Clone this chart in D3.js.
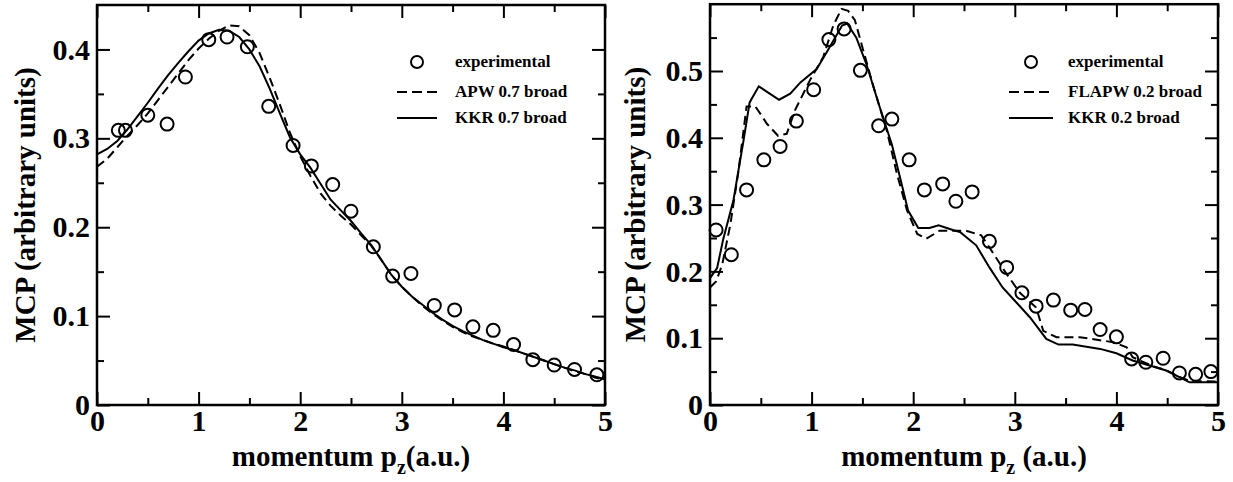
<!DOCTYPE html>
<html>
<head>
<meta charset="utf-8">
<script src="https://cdn.jsdelivr.net/npm/d3@7"></script>
<style>
  html, body { margin: 0; padding: 0; background: #fff; }
  svg { display: block; }
  text { font-family: "Liberation Serif", "Times New Roman", serif; font-weight: bold; fill: #000; }
</style>
</head>
<body>
<svg id="chart" width="1233" height="482"></svg>
<script>
// ---------------- DATA ----------------
// Left panel: experimental points
const leftExpX = [0.21, 0.28, 0.50, 0.69, 0.87, 1.10, 1.28, 1.48, 1.69, 1.93, 2.11, 2.32, 2.50, 2.72, 2.91, 3.09, 3.32, 3.52, 3.70, 3.90, 4.10, 4.29, 4.50, 4.70, 4.92];
const leftExpY = [0.309, 0.309, 0.326, 0.316, 0.369, 0.411, 0.414, 0.403, 0.336, 0.292, 0.269, 0.248, 0.218, 0.178, 0.145, 0.148, 0.112, 0.107, 0.088, 0.084, 0.068, 0.051, 0.045, 0.040, 0.034];

// Left panel curves sampled on this momentum grid
const leftCurveX = [0,0.1,0.2,0.3,0.4,0.5,0.6,0.7,0.8,0.9,1.0,1.1,1.2,1.3,1.4,1.5,1.6,1.7,1.8,1.9,2.0,2.1,2.2,2.3,2.4,2.5,2.6,2.7,2.8,2.9,3.0,3.1,3.2,3.3,3.4,3.5,3.6,3.7,3.8,3.9,4.0,4.1,4.2,4.3,4.4,4.5,4.6,4.7,4.8,4.9,5.0];
const leftKKR = [0.282,0.288,0.297,0.310,0.325,0.340,0.356,0.371,0.385,0.398,0.410,0.418,0.422,0.421,0.414,0.400,0.381,0.356,0.328,0.301,0.282,0.267,0.249,0.231,0.219,0.207,0.193,0.180,0.163,0.146,0.133,0.122,0.113,0.104,0.096,0.089,0.083,0.078,0.073,0.069,0.065,0.062,0.058,0.054,0.050,0.046,0.042,0.039,0.035,0.032,0.029];
const leftAPW = [0.268,0.277,0.290,0.303,0.315,0.328,0.343,0.358,0.373,0.388,0.401,0.412,0.421,0.427,0.426,0.416,0.396,0.368,0.338,0.306,0.280,0.258,0.238,0.224,0.213,0.203,0.191,0.179,0.163,0.146,0.133,0.122,0.112,0.103,0.095,0.088,0.082,0.077,0.073,0.069,0.066,0.062,0.058,0.054,0.050,0.046,0.042,0.038,0.035,0.031,0.028];

// Right panel: experimental points
const rightExpX = [0.06, 0.21, 0.36, 0.53, 0.69, 0.85, 1.02, 1.17, 1.32, 1.48, 1.66, 1.79, 1.96, 2.11, 2.29, 2.42, 2.58, 2.75, 2.92, 3.07, 3.21, 3.38, 3.55, 3.69, 3.84, 4.00, 4.15, 4.29, 4.46, 4.62, 4.78, 4.93];
const rightExpY = [0.262, 0.225, 0.322, 0.367, 0.387, 0.425, 0.472, 0.547, 0.563, 0.501, 0.418, 0.428, 0.367, 0.322, 0.331, 0.305, 0.319, 0.245, 0.206, 0.168, 0.148, 0.157, 0.142, 0.143, 0.113, 0.102, 0.069, 0.064, 0.070, 0.048, 0.046, 0.050];

// Right panel: KKR 0.2 broad
const rightKKRx = [0, 0.07, 0.13, 0.23, 0.33, 0.39, 0.48, 0.58, 0.68, 0.79, 0.89, 1.05, 1.16, 1.30, 1.35, 1.44, 1.54, 1.67, 1.79, 1.87, 1.95, 2.05, 2.16, 2.25, 2.39, 2.46, 2.62, 2.75, 2.88, 3.0, 3.15, 3.31, 3.43, 3.57, 3.84, 4.0, 4.16, 4.36, 4.49, 4.62, 4.72, 5.0];
const rightKKRy = [0.190, 0.205, 0.248, 0.306, 0.396, 0.453, 0.477, 0.467, 0.457, 0.466, 0.483, 0.503, 0.531, 0.568, 0.571, 0.550, 0.510, 0.446, 0.390, 0.341, 0.291, 0.265, 0.265, 0.269, 0.262, 0.259, 0.239, 0.206, 0.176, 0.156, 0.131, 0.099, 0.0905, 0.0905, 0.084, 0.0775, 0.0666, 0.0576, 0.0516, 0.0416, 0.034, 0.034];

// Right panel: FLAPW 0.2 broad
const rightFLAPWx = [0, 0.06, 0.12, 0.2, 0.28, 0.36, 0.445, 0.5, 0.56, 0.67, 0.755, 0.836, 0.983, 1.115, 1.213, 1.295, 1.36, 1.426, 1.51, 1.61, 1.74, 1.84, 1.94, 2.04, 2.13, 2.26, 2.42, 2.52, 2.67, 2.75, 2.92, 3.05, 3.21, 3.28, 3.41, 3.64, 3.97, 4.1, 4.16, 4.36, 4.49, 4.62, 4.72, 5.0];
const rightFLAPWy = [0.176, 0.185, 0.210, 0.270, 0.350, 0.447, 0.447, 0.435, 0.421, 0.403, 0.406, 0.441, 0.486, 0.521, 0.568, 0.593, 0.590, 0.576, 0.530, 0.476, 0.411, 0.346, 0.291, 0.256, 0.249, 0.261, 0.261, 0.261, 0.254, 0.236, 0.196, 0.168, 0.146, 0.111, 0.1015, 0.1015, 0.094, 0.0865, 0.0716, 0.058, 0.052, 0.042, 0.036, 0.035];

// Ticks and labels
const xMajorTicks = [0, 1, 2, 3, 4, 5];
const xMinorTicks = [0.5, 1.5, 2.5, 3.5, 4.5];
const leftYMajor = [0, 0.1, 0.2, 0.3, 0.4];
const leftYMinor = [0.05, 0.15, 0.25, 0.35];
const rightYMajor = [0, 0.1, 0.2, 0.3, 0.4, 0.5];
const rightYMinor = [0.05, 0.15, 0.25, 0.35, 0.45, 0.55];
const leftLegend = ["experimental", "APW 0.7 broad", "KKR 0.7 broad"];
const rightLegend = ["experimental", "FLAPW 0.2 broad", "KKR 0.2 broad"];
const yTitle = "MCP (arbitrary units)";

// ---------------- DRAW ----------------
const FONT = '"Liberation Serif", "Times New Roman", serif';
const svg = d3.select("#chart");
svg.append("rect").attr("width", 1233).attr("height", 482).attr("fill", "#fff");

const fmt = d => d === 0 ? "0" : d3.format(".1f")(d);

function panel(opt) {
  const x = d3.scaleLinear().domain([0, 5]).range([opt.x0, opt.x1]);
  const y = d3.scaleLinear().domain([0, opt.ymax]).range([opt.yb, opt.yt]);
  const g = svg.append("g");

  // ticks
  const major = 13, minor = 7;
  g.append("g").attr("transform", `translate(0,${opt.yb})`)
    .call(d3.axisBottom(x).tickValues(xMajorTicks).tickSizeInner(-major).tickSizeOuter(0).tickPadding(5).tickFormat(d3.format("d")));
  g.append("g").attr("transform", `translate(0,${opt.yb})`)
    .call(d3.axisBottom(x).tickValues(xMinorTicks).tickSizeInner(-minor).tickSizeOuter(0).tickFormat(""));
  g.append("g").attr("transform", `translate(0,${opt.yt})`)
    .call(d3.axisTop(x).tickValues(xMajorTicks).tickSizeInner(-major).tickSizeOuter(0).tickFormat(""));
  g.append("g").attr("transform", `translate(0,${opt.yt})`)
    .call(d3.axisTop(x).tickValues(xMinorTicks).tickSizeInner(-minor).tickSizeOuter(0).tickFormat(""));
  g.append("g").attr("transform", `translate(${opt.x0},0)`)
    .call(d3.axisLeft(y).tickValues(opt.yMajor).tickSizeInner(-major).tickSizeOuter(0).tickPadding(7).tickFormat(fmt));
  g.append("g").attr("transform", `translate(${opt.x0},0)`)
    .call(d3.axisLeft(y).tickValues(opt.yMinor).tickSizeInner(-minor).tickSizeOuter(0).tickFormat(""));
  g.append("g").attr("transform", `translate(${opt.x1},0)`)
    .call(d3.axisRight(y).tickValues(opt.yMajor).tickSizeInner(-major).tickSizeOuter(0).tickFormat(""));
  g.append("g").attr("transform", `translate(${opt.x1},0)`)
    .call(d3.axisRight(y).tickValues(opt.yMinor).tickSizeInner(-minor).tickSizeOuter(0).tickFormat(""));
  g.selectAll(".domain").remove();
  g.selectAll("g").attr("font-family", FONT).attr("font-size", 30);
  g.selectAll(".tick line").attr("stroke", "#000").attr("stroke-width", 2);
  g.selectAll(".tick text").attr("font-size", 30).attr("font-family", FONT)
    .attr("font-weight", "bold").attr("fill", "#000");

  // curves
  const line = d3.line().x(d => x(d[0])).y(d => y(d[1])).curve(d3.curveLinear);
  const clipId = "clip" + opt.id;
  svg.append("clipPath").attr("id", clipId).append("rect")
    .attr("x", opt.x0).attr("y", opt.yt).attr("width", opt.x1 - opt.x0).attr("height", opt.yb - opt.yt);
  const cg = g.append("g").attr("clip-path", `url(#${clipId})`);
  cg.append("path").datum(d3.zip(opt.dashX, opt.dashY)).attr("d", line)
    .attr("fill", "none").attr("stroke", "#000").attr("stroke-width", 2).attr("stroke-dasharray", "9,5");
  cg.append("path").datum(d3.zip(opt.solidX, opt.solidY)).attr("d", line)
    .attr("fill", "none").attr("stroke", "#000").attr("stroke-width", 2);

  // points
  g.append("g").selectAll("circle").data(d3.zip(opt.expX, opt.expY)).join("circle")
    .attr("cx", d => x(d[0])).attr("cy", d => y(d[1])).attr("r", 6.5)
    .attr("fill", "none").attr("stroke", "#000").attr("stroke-width", 2);

  // frame
  g.append("rect").attr("x", opt.x0).attr("y", opt.yt).attr("width", opt.x1 - opt.x0).attr("height", opt.yb - opt.yt)
    .attr("fill", "none").attr("stroke", "#000").attr("stroke-width", 2.5);

  // legend
  const lg = g.append("g");
  const lx0 = opt.legX, lx1 = opt.legX + opt.legW, tx = opt.legTextX;
  lg.append("circle").attr("cx", (lx0 + lx1) / 2).attr("cy", 62).attr("r", 6)
    .attr("fill", "none").attr("stroke", "#000").attr("stroke-width", 2);
  lg.append("line").attr("x1", lx0).attr("x2", lx1).attr("y1", 92).attr("y2", 92)
    .attr("stroke", "#000").attr("stroke-width", 2).attr("stroke-dasharray", "10,5");
  lg.append("line").attr("x1", lx0).attr("x2", lx1).attr("y1", 118).attr("y2", 118)
    .attr("stroke", "#000").attr("stroke-width", 2);
  const ly = [67, 97, 123];
  opt.legend.forEach((t, i) => {
    lg.append("text").attr("x", tx).attr("y", ly[i]).attr("font-size", 17).text(t);
  });

  // axis titles
  const xt = g.append("text").attr("x", (opt.x0 + opt.x1) / 2).attr("y", 466)
    .attr("text-anchor", "middle").attr("font-size", 29);
  xt.append("tspan").text("momentum p");
  xt.append("tspan").attr("dy", 8).attr("font-size", 20).text("z");
  xt.append("tspan").attr("dy", -8).text(opt.xSuffix);

  g.append("text").attr("transform", `translate(${opt.yTitleX},${(opt.yt + opt.yb) / 2}) rotate(-90)`)
    .attr("text-anchor", "middle").attr("font-size", 29).text(yTitle);
}

panel({
  id: "L", x0: 97, x1: 605, yb: 405, yt: 5, ymax: 0.45,
  yMajor: leftYMajor, yMinor: leftYMinor,
  expX: leftExpX, expY: leftExpY,
  solidX: leftCurveX, solidY: leftKKR,
  dashX: leftCurveX, dashY: leftAPW,
  legend: leftLegend, legX: 397, legW: 40, legTextX: 455,
  xSuffix: "(a.u.)", yTitleX: 35
});

panel({
  id: "R", x0: 710, x1: 1218, yb: 405, yt: 4.2, ymax: 0.6,
  yMajor: rightYMajor, yMinor: rightYMinor,
  expX: rightExpX, expY: rightExpY,
  solidX: rightKKRx, solidY: rightKKRy,
  dashX: rightFLAPWx, dashY: rightFLAPWy,
  legend: rightLegend, legX: 1009, legW: 44, legTextX: 1068,
  xSuffix: " (a.u.)", yTitleX: 645
});
</script>
</body>
</html>
